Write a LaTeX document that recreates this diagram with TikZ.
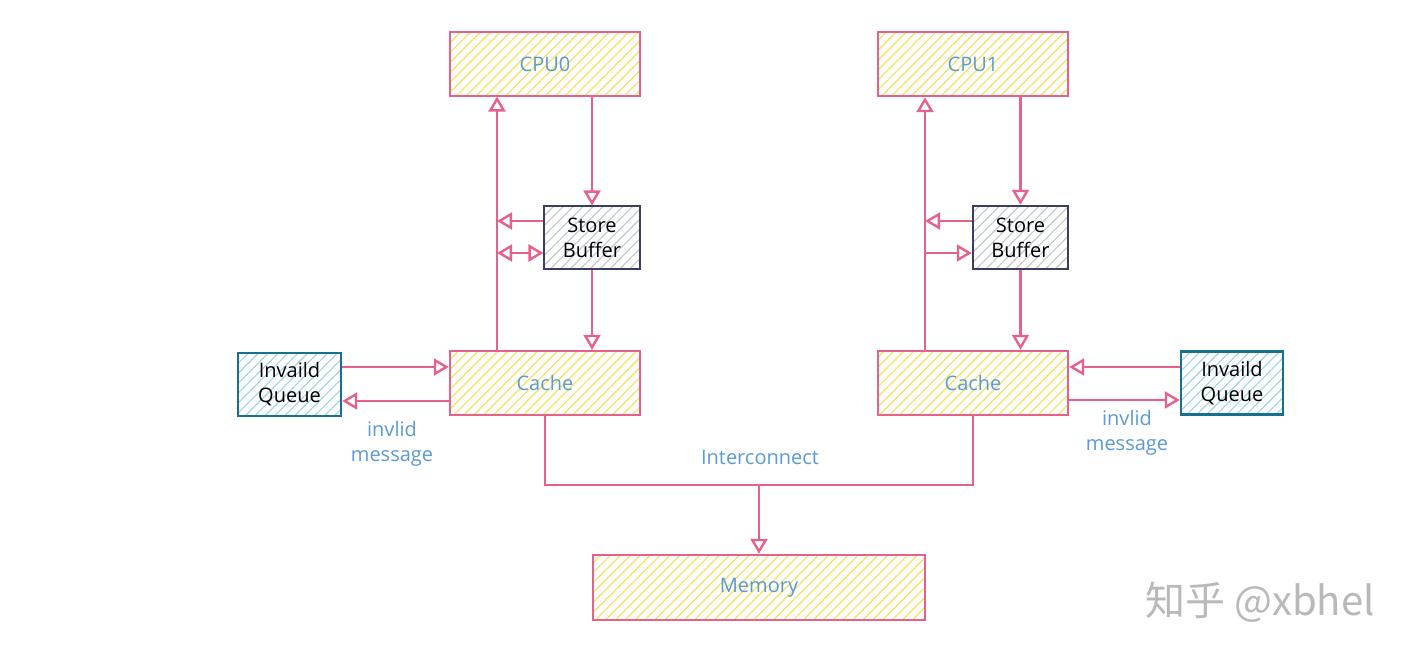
\documentclass[tikz,border=0pt]{standalone}
\usepackage{fontspec}
\setmainfont{Open Sans}
\newfontfamily\cjkfont{Noto Sans CJK SC}
\usetikzlibrary{arrows.meta,patterns.meta}
\definecolor{pinkline}{HTML}{E8618C}
\definecolor{hatchyellow}{HTML}{F7E25A}
\definecolor{hatchgray}{HTML}{C2C7CE}
\definecolor{hatchblue}{HTML}{9FD3E6}
\definecolor{navyline}{HTML}{3B3D63}
\definecolor{tealline}{HTML}{16708E}
\definecolor{lblue}{HTML}{5B9BD5}
\tikzset{
  ybox/.style={draw=pinkline, line width=2.4pt,
    pattern={Lines[angle=45,distance=7pt,line width=1.2pt]}, pattern color=hatchyellow,
    minimum width=190pt, minimum height=64pt, inner sep=0pt, text=lblue, font=\fontsize{20}{24}\selectfont},
  sbbox/.style={draw=navyline, line width=2.4pt,
    pattern={Lines[angle=45,distance=7pt,line width=1.1pt]}, pattern color=hatchgray,
    minimum width=96pt, minimum height=63pt, inner sep=0pt, align=center, text=black,
    font=\fontsize{20}{25}\selectfont},
  iqbox/.style={draw=tealline, line width=2.4pt,
    pattern={Lines[angle=45,distance=7pt,line width=1.1pt]}, pattern color=hatchblue,
    minimum width=103pt, minimum height=63pt, inner sep=0pt, align=center, text=black,
    font=\fontsize{20}{25}\selectfont},
  arr/.style={draw=pinkline, line width=2.6pt, -{Triangle[open,length=15pt,width=17pt,line width=2.4pt]}},
  dblarr/.style={draw=pinkline, line width=2.6pt, {Triangle[open,length=15pt,width=17pt,line width=2.4pt]}-{Triangle[open,length=15pt,width=17pt,line width=2.4pt]}},
  bus/.style={draw=pinkline, line width=2.6pt},
  lbl/.style={text=lblue, align=center, font=\fontsize{20}{25}\selectfont},
}
\begin{document}
\begin{tikzpicture}[x=1pt,y=-1pt]
\useasboundingbox[fill=white] (0,0) rectangle (1419,661);
% boxes
\node[ybox] (CPU0) at (545,64) {CPU0};
\node[ybox] (CPU1) at (973,64) {CPU1};
\node[sbbox] (SB0) at (592,237.5) {Store\\Buffer};
\node[sbbox, minimum width=95pt] (SB1) at (1020.5,237.5) {Store\\Buffer};
\node[ybox] (C0) at (545,383) {Cache};
\node[ybox] (C1) at (973,383) {Cache};
\node[iqbox] (IQ0) at (289.5,384.5) {Invaild\\Queue};
\node[iqbox, minimum width=102pt] (IQ1) at (1232,383) {Invaild\\Queue};
\node[ybox, minimum width=332pt, minimum height=65pt] (MEM) at (759,587.5) {Memory};
% CPU0 side
\draw[arr] (497,0 |- C0.north) -- (497,0 |- CPU0.south);
\draw[arr] (SB0.north |- CPU0.south) -- (SB0.north);
\draw[arr] (SB0.south) -- (SB0.south |- C0.north);
\draw[arr] (SB0.west |- 0,221) -- (497,221);
\draw[dblarr] (497,253) -- (SB0.west |- 0,253);
% CPU1 side
\draw[arr] (925,0 |- C1.north) -- (925,0 |- CPU1.south);
\draw[arr] (SB1.north |- CPU1.south) -- (SB1.north);
\draw[arr] (SB1.south) -- (SB1.south |- C1.north);
\draw[arr] (SB1.west |- 0,221) -- (925,221);
\draw[arr] (925,253) -- (SB1.west |- 0,253);
% invalid queues
\draw[arr] (IQ0.east |- 0,367) -- (C0.west |- 0,367);
\draw[arr] (C0.west |- 0,401) -- (IQ0.east |- 0,401);
\draw[arr] (IQ1.west |- 0,367) -- (C1.east |- 0,367);
\draw[arr] (C1.east |- 0,400) -- (IQ1.west |- 0,400);
% interconnect
\coordinate (busmid) at (759,485);
\draw[bus] (C0.south) -- (C0.south |- busmid) -- (C1.south |- busmid) -- (C1.south);
\draw[arr] (busmid) -- (MEM.north);
% labels
\node[lbl] (ic) at (760,457) {Interconnect};
\node[lbl] (im0) at (392,444) {invlid\\message};
\node[lbl] (im1) at (1127,433) {invlid\\message};
\node[text=gray!55, font=\cjkfont\fontsize{40}{44}\selectfont] (wm) at (1260,602) {知乎 @xbhel};
\end{tikzpicture}
\end{document}
